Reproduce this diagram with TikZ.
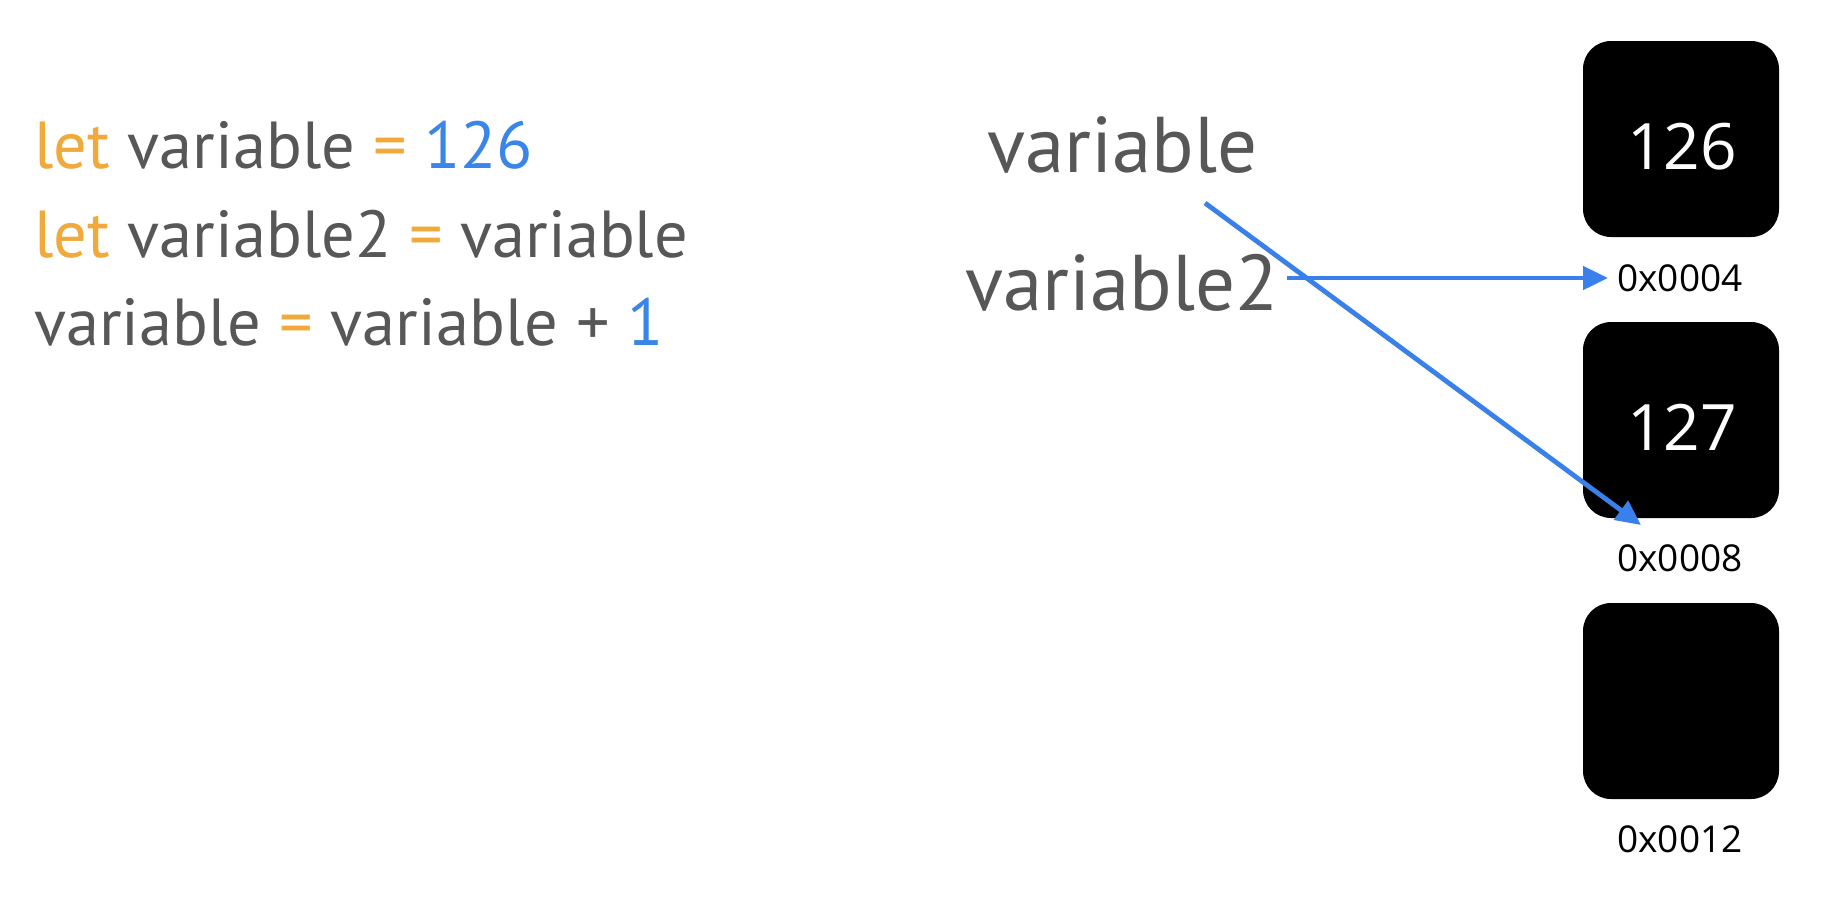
\documentclass[tikz,border=0pt]{standalone}
\usepackage{fontspec}
\usetikzlibrary{arrows.meta}
\newfontfamily\codefont{PT Sans}
\newfontfamily\memfont{Open Sans}
\definecolor{kw}{HTML}{F0A93A}
\definecolor{num}{HTML}{3A86E8}
\definecolor{txt}{HTML}{575757}
\definecolor{arr}{HTML}{3A80EA}
\tikzset{
  codeline/.style={anchor=base west, inner sep=0pt, text=txt, font=\codefont\fontsize{66.5}{78}\selectfont},
  varname/.style={anchor=base west, inner sep=0pt, text=txt, font=\codefont\fontsize{79}{90}\selectfont},
  cell/.style={fill=black, rounded corners=28pt},
  cellval/.style={anchor=base, inner sep=0pt, text=white, font=\memfont\fontsize{64}{70}\selectfont},
  addr/.style={anchor=base, inner sep=0pt, text=black, font=\memfont\fontsize{37}{40}\selectfont},
  ptr/.style={draw=arr, line width=4.8pt, -{Triangle[length=25pt,width=23pt]}}
}
\begin{document}
\begin{tikzpicture}[x=1pt,y=-1pt]
\useasboundingbox (0,0) rectangle (1824,898);
\fill[white] (0,0) rectangle (1824,898);
% code
\node[codeline] (l1) at (34,168) {\textcolor{kw}{let} variable \textcolor{kw}{=} \textcolor{num}{126}};
\node[codeline] (l2) at (34,257) {\textcolor{kw}{let} variable2 \textcolor{kw}{=} variable};
\node[codeline] (l3) at (34,345) {variable \textcolor{kw}{=} variable + \textcolor{num}{1}};
% memory cells
\node[cell, minimum width=196pt, minimum height=196pt, inner sep=0pt] (b1) at (1681,139) {};
\node[cell, minimum width=196pt, minimum height=196pt, inner sep=0pt] (b2) at (1681,420) {};
\node[cell, minimum width=196pt, minimum height=196pt, inner sep=0pt] (b3) at (1681,701) {};
\node[cellval] (v126) at (1682,169) {126};
\node[cellval] (v127) at (1682,450) {127};
\node[addr] (a1) at (1680,291) {0x0004};
\node[addr] (a2) at (1680,571) {0x0008};
\node[addr] (a3) at (1680,852) {0x0012};
% variable names
\node[varname] (n1) at (987,172) {variable};
\node[varname] (n2) at (965,310) {variable2};
% pointers
\coordinate (s1) at (1287,278);
\coordinate (e1) at (1608,278);
\coordinate (s2) at (1205,203);
\coordinate (e2) at (1641,525);
\draw[ptr] (s1) -- (e1);
\draw[ptr] (s2) -- (e2);
\end{tikzpicture}
\end{document}
